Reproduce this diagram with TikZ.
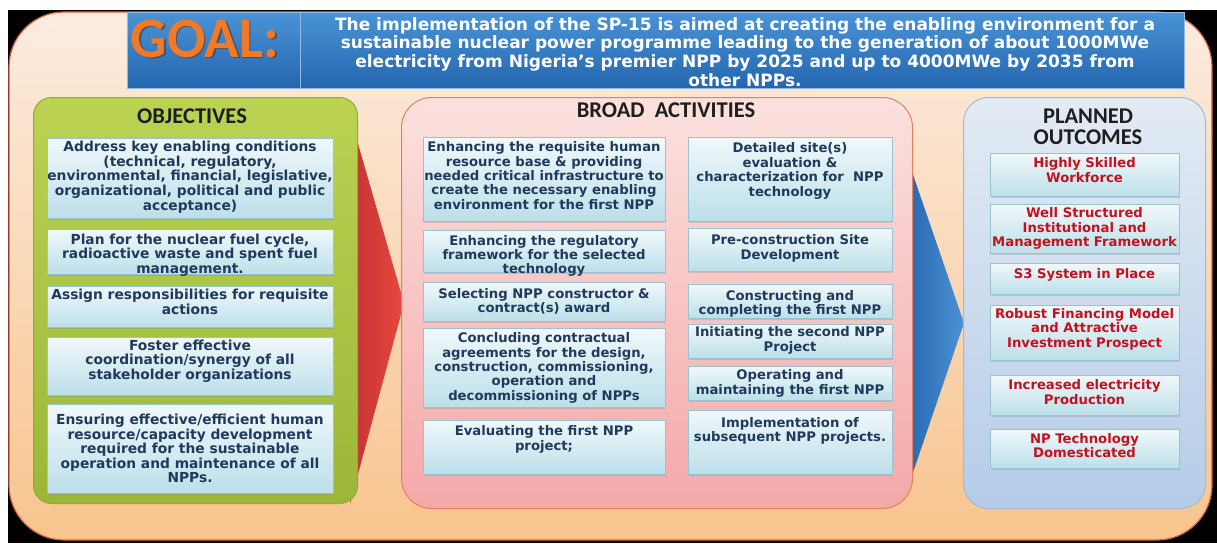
\documentclass[tikz,border=0pt]{standalone}
\usepackage{fontspec}
\setmainfont{DejaVu Sans}
\newfontfamily\titlefont{Carlito}
\usetikzlibrary{shadows}
\definecolor{navytxt}{HTML}{1F3A5C}
\definecolor{outred}{HTML}{C3121E}
\definecolor{goalorange}{HTML}{F07A28}
\tikzset{
  itembox/.style={draw={rgb,255:red,150;green,196;blue,210}, line width=0.8pt,
    top color={rgb,255:red,240;green,248;blue,250}, bottom color={rgb,255:red,188;green,223;blue,233},
    inner sep=0pt, anchor=north west,
    drop shadow={opacity=0.25, shadow xshift=1pt, shadow yshift=-1.5pt}},
  otext/.style={align=center, inner sep=0pt, text=navytxt, font={\fontsize{13.8}{14.6}\selectfont\bfseries}},
  atext/.style={align=center, inner sep=0pt, text=navytxt, font={\fontsize{13.2}{14.4}\selectfont\bfseries}},
  rtext/.style={align=center, inner sep=0pt, text=outred, font={\fontsize{13.2}{14.5}\selectfont\bfseries}},
  titletext/.style={align=center, inner sep=0pt, text={rgb,255:red,30;green,30;blue,30}, font={\fontsize{22.5}{21}\selectfont\titlefont\bfseries}},
  goalcell/.style={draw={rgb,255:red,150;green,185;blue,225}, line width=0.6pt, inner sep=0pt, anchor=north west,
    top color={rgb,255:red,74;green,147;blue,214}, bottom color={rgb,255:red,36;green,102;blue,174}},
  panel/.style={inner sep=0pt, anchor=north west, line width=1pt},
}
\newcommand\ibox[5]{\node[itembox, minimum width={(#4)-(#2)}, minimum height={(#5)-(#3)}] (#1) at (#2,#3) {};}
\begin{document}
\begin{tikzpicture}[x=1pt,y=-1pt]
\useasboundingbox (0,0) rectangle (1217,543);
\fill[white] (0,0) rectangle (1217,543);
\fill[black] (8,10) rectangle (1217,543);
\path[top color={rgb,255:red,252;green,236;blue,224}, bottom color={rgb,255:red,248;green,196;blue,142},
  draw={rgb,255:red,215;green,95;blue,60}, line width=1.2pt, rounded corners=55pt]
  (9,12) rectangle (1212,540);
% goal
\node[goalcell, minimum width=173, minimum height=76] (goalL) at (127,12) {};
\node[goalcell, minimum width=884, minimum height=76] (goalR) at (300,12) {};
\node[inner sep=0pt, text={rgb,255:red,90;green,50;blue,30}, opacity=0.6, font={\fontsize{57}{57}\selectfont\titlefont\bfseries}] (goalshadow) at (206.5,40.5) {GOAL:};
\node[inner sep=0pt, text=goalorange, font={\fontsize{57}{57}\selectfont\titlefont\bfseries}] (goal) at (205,39) {GOAL:};
\node[align=center, inner sep=0pt, text=white, font={\fontsize{17}{18.7}\selectfont\bfseries}] (goaltext) at (745,52)
 {The implementation of the SP-15 is aimed at creating the enabling environment for a\\
  sustainable nuclear power programme leading to the generation of about 1000MWe\\
  electricity from Nigeria’s premier NPP by 2025 and up to 4000MWe by 2035 from\\
  other NPPs.};
% chevrons
\shade[left color={rgb,255:red,196;green,50;blue,52}, right color={rgb,255:red,232;green,72;blue,62}]
  (350,116) -- (404,303) -- (350,504) -- cycle;
\shade[left color={rgb,255:red,40;green,104;blue,174}, right color={rgb,255:red,76;green,146;blue,214}]
  (908,160) -- (964,323) -- (908,487) -- cycle;
% panels
\node[panel, draw={rgb,255:red,145;green,172;blue,50}, top color={rgb,255:red,187;green,210;blue,82}, bottom color={rgb,255:red,156;green,183;blue,56},
  rounded corners=18pt, minimum width=324, minimum height=406] (objpanel) at (33,97) {};
\node[panel, draw={rgb,255:red,226;green,128;blue,95}, top color={rgb,255:red,251;green,225;blue,222}, bottom color={rgb,255:red,244;green,168;blue,168},
  rounded corners=30pt, minimum width=511, minimum height=411] (actpanel) at (401,97) {};
\node[panel, draw={rgb,255:red,163;green,184;blue,211}, top color={rgb,255:red,227;green,235;blue,244}, bottom color={rgb,255:red,181;green,204;blue,232},
  rounded corners=25pt, minimum width=242, minimum height=411] (outpanel) at (963,97) {};
% titles
\node[titletext] (objtitle) at (192,116) {OBJECTIVES};
\node[titletext] (acttitle) at (666,110) {BROAD\ \ ACTIVITIES};
\node[titletext] (outtitle) at (1088,127) {PLANNED\\OUTCOMES};
% objectives
\ibox{o1b}{47}{138}{333}{218}
\ibox{o2b}{47}{229}{333}{274}
\ibox{o3b}{47}{286}{333}{327}
\ibox{o4b}{47}{337}{333}{395}
\ibox{o5b}{47}{404}{333}{493}
\node[otext] (o1) at (190,177) {Address key enabling conditions\\(technical, regulatory,\\environmental, financial, legislative,\\organizational, political and public\\acceptance)};
\node[otext] (o2) at (190,255) {Plan for the nuclear fuel cycle,\\radioactive waste and spent fuel\\management.};
\node[otext] (o3) at (190,302) {Assign responsibilities for requisite\\actions};
\node[otext] (o4) at (190,361) {Foster effective\\coordination/synergy of all\\stakeholder organizations};
\node[otext] (o5) at (190,448.5) {Ensuring effective/efficient human\\resource/capacity development\\required for the sustainable\\operation and maintenance of all\\NPPs.};
% activities left
\ibox{a1b}{423}{137}{665}{221}
\ibox{a2b}{423}{230}{665}{272}
\ibox{a3b}{423}{282}{665}{321}
\ibox{a4b}{423}{328}{665}{407}
\ibox{a5b}{423}{420}{665}{474}
\node[atext] (a1) at (544,175.5) {Enhancing the requisite human\\resource base \& providing\\needed critical infrastructure to\\create the necessary enabling\\environment for the first NPP};
\node[atext] (a2) at (544,256) {Enhancing the regulatory\\framework for the selected\\technology};
\node[atext] (a3) at (544,301.5) {Selecting NPP constructor \&\\contract(s) award};
\node[atext] (a4) at (544,368) {Concluding contractual\\agreements for the design,\\construction, commissioning,\\operation and\\decommissioning of NPPs};
\node[atext] (a5) at (544,439.5) {Evaluating the first NPP\\project;};
% activities right
\ibox{b1b}{688}{137}{892}{221}
\ibox{b2b}{688}{228}{892}{271}
\ibox{b3b}{688}{284}{892}{318}
\ibox{b4b}{688}{324}{892}{358}
\ibox{b5b}{688}{366}{892}{400}
\ibox{b6b}{688}{410}{892}{474}
\node[atext] (b1) at (790,171) {Detailed site(s)\\evaluation \&\\characterization for\ \ NPP\\technology};
\node[atext] (b2) at (790,248.5) {Pre-construction Site\\Development};
\node[atext] (b3) at (790,304) {Constructing and\\completing the first NPP};
\node[atext] (b4) at (790,340.5) {Initiating the second NPP\\Project};
\node[atext] (b5) at (790,383.5) {Operating and\\maintaining the first NPP};
\node[atext] (b6) at (790,431) {Implementation of\\subsequent NPP projects.};
% outcomes
\ibox{c1b}{990}{153}{1179}{196}
\ibox{c2b}{990}{204}{1179}{253}
\ibox{c3b}{990}{263}{1179}{294}
\ibox{c4b}{990}{305}{1179}{360}
\ibox{c5b}{990}{375}{1179}{415}
\ibox{c6b}{990}{429}{1179}{468}
\node[rtext] (c1) at (1084.5,170) {Highly Skilled\\Workforce};
\node[rtext] (c2) at (1084.5,228.5) {Well Structured\\Institutional and\\Management Framework};
\node[rtext] (c3) at (1084.5,275) {S3 System in Place};
\node[rtext] (c4) at (1084.5,329) {Robust Financing Model\\and Attractive\\Investment Prospect};
\node[rtext] (c5) at (1084.5,392) {Increased electricity\\Production};
\node[rtext] (c6) at (1084.5,445.5) {NP Technology\\Domesticated};
\end{tikzpicture}
\end{document}
